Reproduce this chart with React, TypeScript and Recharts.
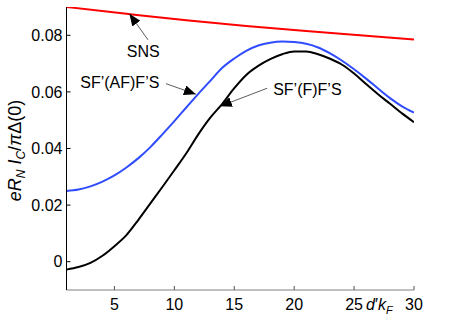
import React from 'react';
import { LineChart, Line, XAxis, YAxis, ReferenceLine, ReferenceDot } from 'recharts';

// d'k_F grid
const dk = [1, 2, 3, 4, 5, 6, 7, 8, 9, 10, 11, 12, 13, 14, 15, 16, 17, 18, 19, 20, 21, 22, 23, 24, 25, 26, 27, 28, 29, 30];

const sfafValues = [
  0.025, 0.0255, 0.0266, 0.0283, 0.0305, 0.0333, 0.0366, 0.0405, 0.045, 0.0497,
  0.0545, 0.0593, 0.0639, 0.0685, 0.0718, 0.0745, 0.0764, 0.0774, 0.0778, 0.0776,
  0.077, 0.0757, 0.0736, 0.071, 0.068, 0.0647, 0.0612, 0.0578, 0.0549, 0.0527,
];

const sffValues = [
  -0.0028, -0.0019, -0.0004, 0.0021, 0.0055, 0.0094, 0.0148, 0.0206, 0.0264, 0.0323,
  0.0383, 0.045, 0.0509, 0.0558, 0.0613, 0.066, 0.0692, 0.0716, 0.0733, 0.0743,
  0.0743, 0.0733, 0.0717, 0.0696, 0.0665, 0.0628, 0.0592, 0.0558, 0.0524, 0.0493,
];

const snsX = [1, 6, 11, 16, 21, 26, 30];
const snsValues = [0.09, 0.0876, 0.0853, 0.0833, 0.0815, 0.0798, 0.0785];

const xTicks = [5, 10, 15, 20, 25, 30];
const yTicks = [0, 0.02, 0.04, 0.06, 0.08];

const sfaf = dk.map((x, i) => ({ x, y: sfafValues[i] }));
const sff = dk.map((x, i) => ({ x, y: sffValues[i] }));
const sns = snsX.map((x, i) => ({ x, y: snsValues[i] }));

// no serif face in the sandbox, Arial-metric sans keeps the widths close
const font = '"Liberation Sans", Arial, sans-serif';
const FS = 16;
const txt = { fontFamily: font, fontSize: FS };

const BottomTick = (p: any) => (
  <g>
    <line x1={p.x} x2={p.x} y1={290} y2={286} stroke="#555" />
    <text x={p.x} y={p.y} dy="0.71em" textAnchor="middle" style={txt} fill="#000">
      {p.payload.value}
    </text>
  </g>
);

const LeftTick = (p: any) => (
  <g>
    <line x1={p.x + 4} x2={p.x + 8} y1={p.y} y2={p.y} stroke="#000" />
    <text x={p.x} y={p.y} dy="0.355em" textAnchor="end" style={txt} fill="#000">
      {p.payload.value === 0 ? '0' : p.payload.value.toFixed(2)}
    </text>
  </g>
);

const TopTick = (p: any) => <line x1={p.x} x2={p.x} y1={7} y2={11} stroke="#555" />;
const RightTick = (p: any) => <line x1={p.x - 4} x2={p.x} y1={p.y} y2={p.y} stroke="#555" />;

const YTitle = (props: any) => {
  const vb = props.viewBox;
  const cx = vb.x + 15;
  const cy = vb.y + vb.height / 2 + 2;
  return (
    <text
      x={cx}
      y={cy}
      transform={`rotate(-90 ${cx} ${cy})`}
      textAnchor="middle"
      dy="0.35em"
      style={{ fontFamily: font, fontSize: 18 }}
      fill="#000"
    >
      <tspan fontStyle="italic">eR</tspan>
      <tspan fontStyle="italic" style={{ fontSize: 12 }} dy={4}>N</tspan>
      <tspan fontStyle="italic" dy={-4}> I</tspan>
      <tspan fontStyle="italic" style={{ fontSize: 12 }} dy={4}>C</tspan>
      <tspan dy={-4}>/</tspan>
      <tspan fontStyle="italic">π</tspan>
      <tspan>Δ(0)</tspan>
    </text>
  );
};

const XTitle = () => (
  <text x={366} y={299} dy="0.71em" style={txt} fill="#000">
    <tspan fontStyle="italic">d</tspan>
    <tspan>′</tspan>
    <tspan fontStyle="italic">k</tspan>
    <tspan fontStyle="italic" style={{ fontSize: 11 }} dy={4}>F</tspan>
  </text>
);

const noteLabel = (value: string) => ({
  value,
  position: 'center' as const,
  fill: '#000',
  style: txt,
  fontSize: FS,
  fontFamily: font,
});

export default function App() {
  return (
    <div style={{ position: 'absolute', left: 0, top: 0, background: '#fff' }}>
      <LineChart width={463} height={317} margin={{ top: 7, right: 49, bottom: 0, left: 0 }}>
        <defs>
          <marker id="ah" markerWidth="12" markerHeight="10" refX="12" refY="5" orient="auto" markerUnits="userSpaceOnUse">
            <path d="M0,0 L12,5 L0,10 z" fill="#000" />
          </marker>
        </defs>
        <XAxis
          dataKey="x"
          type="number"
          domain={[1, 30]}
          allowDataOverflow
          ticks={xTicks}
          height={27}
          tickSize={0}
          tickMargin={9}
          axisLine={{ stroke: '#808080' }}
          tick={BottomTick}
          label={XTitle}
        />
        <XAxis
          xAxisId="top"
          orientation="top"
          dataKey="x"
          type="number"
          domain={[1, 30]}
          allowDataOverflow
          ticks={xTicks}
          height={0}
          tickSize={0}
          axisLine={{ stroke: '#333' }}
          tick={TopTick}
        />
        <YAxis
          type="number"
          domain={[-0.01, 0.09]}
          allowDataOverflow
          ticks={yTicks}
          width={66.5}
          tickSize={0}
          tickMargin={4}
          axisLine={{ stroke: '#000' }}
          tick={LeftTick}
          label={YTitle}
        />
        <YAxis
          yAxisId="right"
          orientation="right"
          type="number"
          domain={[-0.01, 0.09]}
          allowDataOverflow
          ticks={yTicks}
          width={0}
          tickSize={0}
          axisLine={{ stroke: '#808080' }}
          tick={RightTick}
        />
        <Line data={sns} dataKey="y" type="monotone" stroke="#ff0000" strokeWidth={2} dot={false} isAnimationActive={false} />
        <Line data={sfaf} dataKey="y" type="monotone" stroke="#2f4cff" strokeWidth={2} dot={false} isAnimationActive={false} />
        <Line data={sff} dataKey="y" type="monotone" stroke="#000" strokeWidth={2} dot={false} isAnimationActive={false} />

        <ReferenceLine segment={[{ x: 7.8, y: 0.0784 }, { x: 6.25, y: 0.0876 }]} stroke="#333" strokeWidth={0.8} markerEnd="url(#ah)" />
        <ReferenceLine segment={[{ x: 9.3, y: 0.0629 }, { x: 11.8, y: 0.0592 }]} stroke="#333" strokeWidth={0.8} markerEnd="url(#ah)" />
        <ReferenceLine segment={[{ x: 17.75, y: 0.0613 }, { x: 13.8, y: 0.0549 }]} stroke="#333" strokeWidth={0.8} markerEnd="url(#ah)" />

        <ReferenceDot x={7.4} y={0.0745} r={0} fill="none" stroke="none" label={noteLabel('SNS')} />
        <ReferenceDot x={5.45} y={0.0633} r={0} fill="none" stroke="none" label={noteLabel('SF’(AF)F’S')} />
        <ReferenceDot x={21.1} y={0.0608} r={0} fill="none" stroke="none" label={noteLabel('SF’(F)F’S')} />
      </LineChart>
    </div>
  );
}
